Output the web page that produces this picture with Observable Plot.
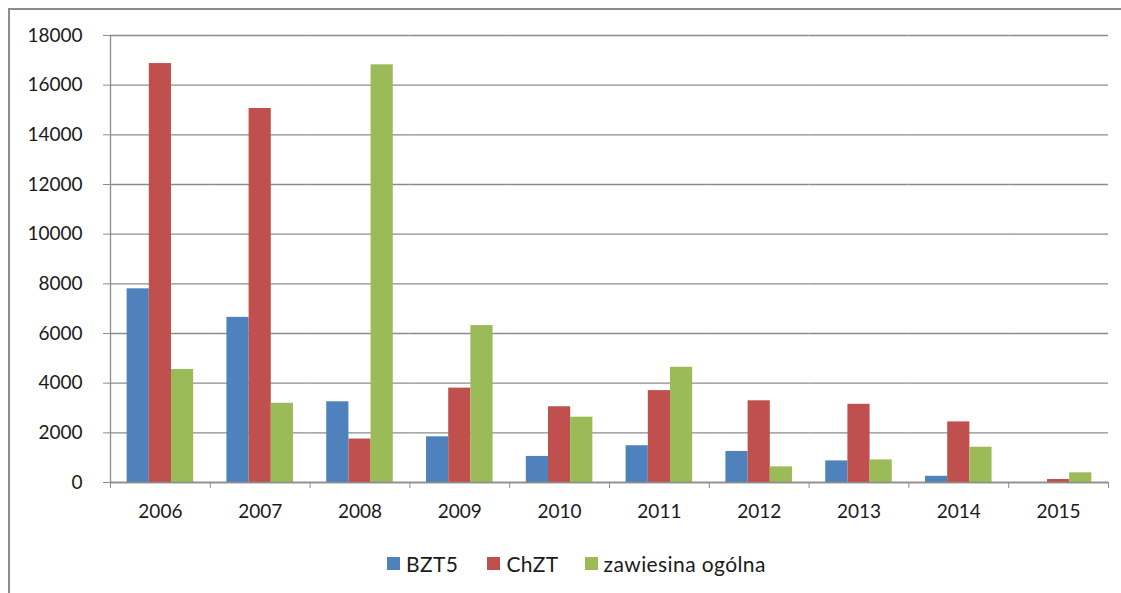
<!DOCTYPE html>
<html>
<head>
<meta charset="utf-8">
<script src="https://cdn.jsdelivr.net/npm/d3@7"></script>
<script src="https://cdn.jsdelivr.net/npm/@observablehq/plot@0.6"></script>
<style>
  html, body { margin: 0; padding: 0; background: #fff; }
  #wrap { position: relative; width: 1121px; height: 593px; overflow: hidden; font-family: Lato, "Noto Sans", sans-serif; }
  #frame { position: absolute; left: 8px; top: 8px; width: 1130px; height: 600px; border-top: 2px solid #8c8c8c; border-left: 2px solid #8c8c8c; }
  #chart { position: absolute; left: 0; top: 0; }
  #legend { position: absolute; left: 387px; top: 551px; display: flex; align-items: center; font-size: 21px; letter-spacing: 0.4px; color: #1a1a1a; }
  .item { display: flex; align-items: center; }
  .sw { width: 13px; height: 13px; margin-right: 6px; }
</style>
</head>
<body>
<div id="wrap">
  <div id="frame"></div>
  <div id="chart"></div>
  <div id="legend"></div>
</div>
<script>
const years = ["2006", "2007", "2008", "2009", "2010", "2011", "2012", "2013", "2014", "2015"];
const seriesNames = ["BZT5", "ChZT", "zawiesina ogólna"];
const bzt5 = [7800, 6650, 3250, 1840, 1050, 1480, 1250, 870, 250, 0];
const chzt = [16870, 15060, 1750, 3800, 3050, 3700, 3290, 3150, 2440, 120];
const zawiesina = [4550, 3190, 16820, 6320, 2630, 4640, 630, 910, 1420, 390];
const colors = ["#4F81BD", "#C0504D", "#9BBB59"];
const yTicks = [0, 2000, 4000, 6000, 8000, 10000, 12000, 14000, 16000, 18000];

const seriesValues = [bzt5, chzt, zawiesina];
const rows = [];
years.forEach((yr, i) => {
  seriesNames.forEach((s, j) => rows.push({year: yr, series: s, value: seriesValues[j][i]}));
});

const W = 1121, H = 530, ML = 110, MR = 13, MT = 35, MB = 48;
const halfBand = (W - ML - MR) / years.length / 2;
const axisColor = "#8c8c8c";
const textColor = "#1a1a1a";

const chart = Plot.plot({
  width: W, height: H,
  marginLeft: ML, marginRight: MR, marginTop: MT, marginBottom: MB,
  style: {fontFamily: "Lato, 'Noto Sans', sans-serif", fontSize: "19px", color: textColor, background: "transparent"},
  fx: {domain: years, padding: 0, round: false, label: null, axis: null},
  x: {domain: seriesNames, paddingInner: 0, paddingOuter: 0.75, round: false, axis: null},
  y: {domain: [0, 18000], axis: null},
  color: {domain: seriesNames, range: colors},
  marks: [
    Plot.gridY({ticks: yTicks, stroke: axisColor, strokeOpacity: 1, strokeWidth: 1.3}),
    Plot.barY(rows, {fx: "year", x: "series", y: "value", fill: "series"}),
    Plot.ruleY([0], {stroke: axisColor, strokeWidth: 1.3}),
    Plot.gridFx({ticks: [years[0]], dx: -halfBand, stroke: axisColor, strokeOpacity: 1, strokeWidth: 1.3}),
    Plot.axisY({ticks: yTicks, tickSize: 7, tickPadding: 21, stroke: axisColor, fill: textColor, label: null, fontSize: 19, tickFormat: d => String(d)}),
    Plot.axisFx({anchor: "bottom", ticks: years, tickSize: 0, tickPadding: 22, label: null, fill: textColor, fontSize: 19}),
    Plot.axisFx({anchor: "bottom", ticks: years, tickSize: 6, tickFormat: () => "", dx: -halfBand, stroke: axisColor, label: null}),
    Plot.axisFx({anchor: "bottom", ticks: [years[years.length - 1]], tickSize: 6, tickFormat: () => "", dx: halfBand, stroke: axisColor, label: null})
  ]
});
document.getElementById("chart").appendChild(chart);

const legend = document.getElementById("legend");
const gaps = [29, 26, 0];
seriesNames.forEach((s, i) => {
  const item = document.createElement("div");
  item.className = "item";
  item.style.marginRight = gaps[i] + "px";
  const sw = document.createElement("span");
  sw.className = "sw";
  sw.style.background = colors[i];
  const t = document.createElement("span");
  t.textContent = s;
  item.appendChild(sw);
  item.appendChild(t);
  legend.appendChild(item);
});
</script>
</body>
</html>
